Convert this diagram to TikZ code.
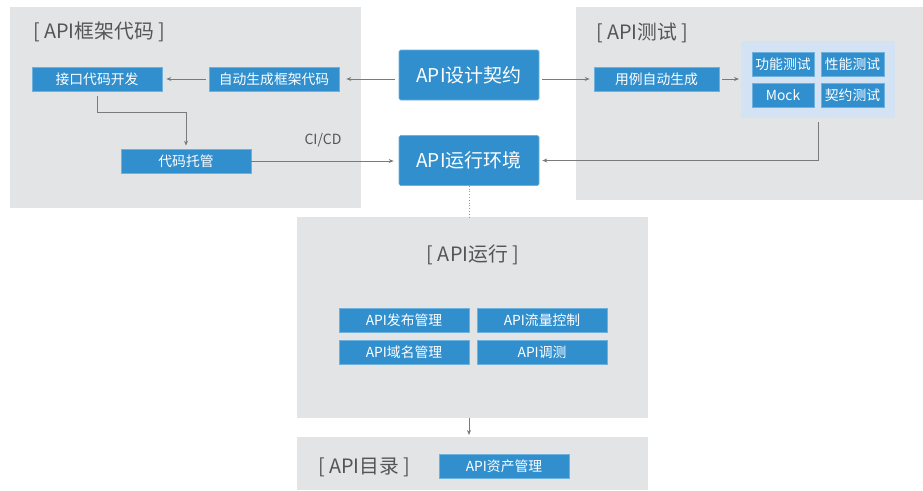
\documentclass[tikz,border=0pt]{standalone}
\usepackage{fontspec}
\setmainfont{Noto Sans CJK SC}
\usetikzlibrary{arrows.meta}
\definecolor{panel}{HTML}{E3E4E6}
\definecolor{bluebox}{HTML}{318FCE}
\definecolor{lightblue}{HTML}{D3E3F4}
\definecolor{titlegray}{HTML}{555555}
\definecolor{linegray}{HTML}{7A7A7A}
\begin{document}
\begin{tikzpicture}[x=1pt,y=-1pt,
  panelbox/.style={fill=panel, draw=none, inner sep=0pt, outer sep=0pt, anchor=north west},
  bbox/.style={fill=bluebox, draw=bluebox!70!white, line width=0.6pt, text=white, inner sep=0pt,
    font=\fontsize{13.8}{15}\selectfont, minimum height=24pt},
  bigbox/.style={fill=bluebox, draw=bluebox!70!white, line width=0.6pt, text=white, inner sep=0pt,
    rounded corners=1.5pt, minimum width=140pt, minimum height=50pt, font=\fontsize{19}{22}\selectfont},
  ttl/.style={text=titlegray, font=\fontsize{19.8}{22}\selectfont, inner sep=0pt},
  conn/.style={draw=linegray, line width=0.8pt, -{Stealth[length=5pt,width=4pt]}}
]
\useasboundingbox (0,0) rectangle (923,490);
% panels
\node[panelbox, minimum width=351pt, minimum height=201pt] (pL) at (10,7) {};
\node[panelbox, minimum width=347pt, minimum height=193pt] (pR) at (576,7) {};
\node[panelbox, minimum width=351pt, minimum height=201pt] (pM) at (297,217) {};
\node[panelbox, minimum width=351pt, minimum height=53pt] (pB) at (297,437) {};
\node[panelbox, fill=lightblue, minimum width=154pt, minimum height=77pt] (lb) at (741,41) {};
% titles
\node[ttl, anchor=west] (tL) at (33,32) {[ API框架代码 ]};
\node[ttl, anchor=west] (tR) at (596,33) {[ API测试 ]};
\node[ttl] (tM) at (473,255) {[ API运行 ]};
\node[ttl, anchor=west] (tB) at (318,467) {[ API目录 ]};
% left boxes
\node[bbox, minimum width=130pt] (jk) at (97,79) {接口代码开发};
\node[bbox, minimum width=130pt] (zd) at (274,79) {自动生成框架代码};
\node[bbox, minimum width=130pt] (dm) at (186,161) {代码托管};
% center
\node[bigbox] (sj) at (469,75) {API设计契约};
\node[bigbox] (yx) at (469,160.5) {API运行环境};
% right
\node[bbox, minimum width=125pt] (yl) at (656.5,79) {用例自动生成};
\node[bbox, minimum width=62pt] (gn) at (783,64) {功能测试};
\node[bbox, minimum width=63pt] (xn) at (852.5,64) {性能测试};
\node[bbox, minimum width=62pt] (mk) at (783,95) {Mock};
\node[bbox, minimum width=63pt] (qy) at (852.5,95) {契约测试};
% middle
\node[bbox, minimum width=130pt] (fb) at (404,320) {API发布管理};
\node[bbox, minimum width=130pt] (ll) at (542,320) {API流量控制};
\node[bbox, minimum width=130pt] (ym) at (404,352) {API域名管理};
\node[bbox, minimum width=130pt] (ts) at (542,352) {API调测};
% bottom
\node[bbox, minimum width=130pt] (zc) at (504,466) {API资产管理};
% connectors
\draw[conn, shorten <=4pt, shorten >=7pt] (sj.west |- zd.east) -- (zd.east);
\draw[conn, shorten <=3pt, shorten >=4pt] (zd.west) -- (jk.east);
\draw[conn, shorten <=5pt, shorten >=3pt] (jk.south) -- ++(0,21) -| (dm.north);
\draw[conn, shorten >=5pt] (dm.east) -- (dm.east -| yx.west);
\node[text=titlegray, font=\fontsize{14}{16}\selectfont, inner sep=0pt] (ci) at (323,140) {CI/CD};
\draw[conn, shorten <=3pt, shorten >=4pt] (sj.east |- yl.west) -- (yl.west);
\draw[conn, shorten <=3pt, shorten >=2pt] (yl.east) -- (lb.west |- yl.east);
\draw[conn, shorten <=4pt, shorten >=3pt] (lb.south) |- (yx.east);
\draw[linegray!80, line width=0.8pt, dotted] (yx.south) -- (pM.north -| yx.south);
\draw[conn, shorten >=2pt] (pM.south -| yx.south) -- (pB.north -| yx.south);
\end{tikzpicture}
\end{document}
